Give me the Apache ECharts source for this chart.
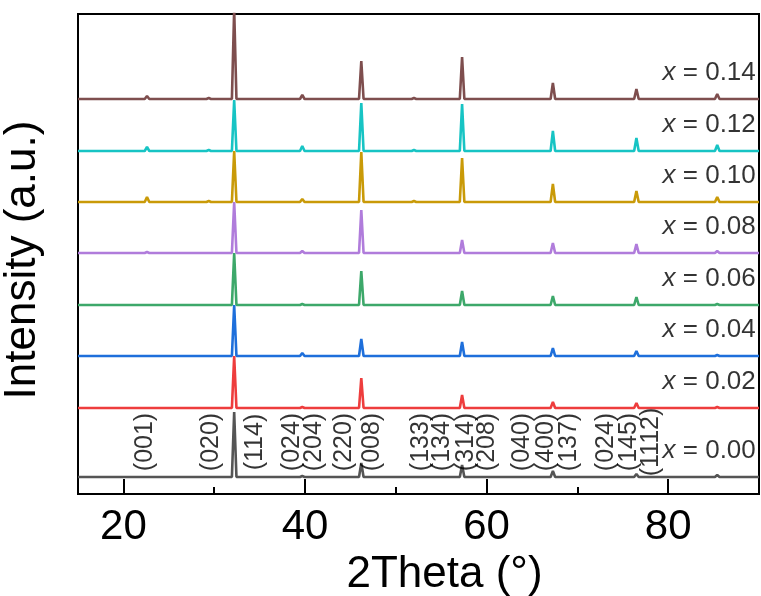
<!DOCTYPE html>
<html>
<head>
<meta charset="utf-8">
<style>html,body{margin:0;padding:0;background:#fff;}#c{width:761px;height:596px;}</style>
<script src="https://cdn.jsdelivr.net/npm/echarts@6/dist/echarts.min.js"></script>
</head>
<body>
<div id="c"></div>
<script>
// ---- data ----
const sampleNames = ['0.14', '0.12', '0.10', '0.08', '0.06', '0.04', '0.02', '0.00'];
const sampleColors = ['#7E4E4E', '#17C4C4', '#C99A08', '#B07CDB', '#3DA86A', '#1E6FDB', '#EE3D3D', '#555555'];
const offsets = [395, 343, 292, 241, 189, 138, 86, 17];
const peakPos = [22.6, 29.4, 32.2, 39.7, 46.2, 52.0, 57.3, 67.3, 76.5, 85.4];
const h014 = [3, 1, 90, 4, 38, 1, 42, 16, 10, 5];
const h012 = [4, 1, 51, 5, 48, 1, 47, 20, 13, 6];
const h010 = [5, 1, 51, 3, 50, 1, 44, 18, 11, 5];
const h008 = [1, 0, 51, 2, 43, 0, 13, 10, 9, 2];
const h006 = [0, 0, 52, 1, 34, 0, 14, 9, 8, 1];
const h004 = [0, 0, 51, 3, 17, 0, 14, 8, 5, 1];
const h002 = [0, 0, 52, 1, 30, 0, 13, 6, 5, 1];
const h000 = [0, 0, 65, 1, 14, 0, 12, 6, 3, 2];
const heights = [h014, h012, h010, h008, h006, h004, h002, h000];
const hklLabels = ['(001)', '(020)', '(114)', '(024)', '(204)', '(220)', '(008)', '(133)', '(134)', '(314)', '(208)', '(040)', '(400)', '(137)', '(024)', '(145)', '(1112)'];
const hklPos = [22.4, 29.7, 34.5, 38.6, 41.0, 44.3, 47.4, 52.8, 55.1, 57.7, 60.1, 63.9, 66.5, 69.1, 73.2, 75.7, 78.1];
const majorTicks = [20, 40, 60, 80];
const minorTicks = [30, 50, 70];

// ---- build ----
const FONT = "'Liberation Sans', Arial, sans-serif";
const peakHalf = 0.25;
const series = [];
heights.forEach((hs, k) => {
  const off = offsets[k];
  const pts = [[15, off]];
  peakPos.forEach((p, i) => {
    if (hs[i] > 0) {
      pts.push([p - peakHalf, off], [p, off + hs[i]], [p + peakHalf, off]);
    }
  });
  pts.push([90, off]);
  series.push({
    type: 'line', data: pts, showSymbol: false, symbol: 'none',
    lineStyle: { color: sampleColors[k], width: 2.6 }, clip: true, z: 2
  });
});
series.push({
  type: 'scatter', symbolSize: 1, itemStyle: { color: 'transparent' }, z: 5,
  data: sampleNames.map((n, k) => [89.7, offsets[k] + 26, n]),
  label: {
    show: true, position: 'left', distance: 0,
    formatter: p => '{i|x}{n| = ' + p.data[2] + '}',
    rich: {
      i: { fontStyle: 'italic', fontSize: 26, fontFamily: FONT, color: '#000' },
      n: { fontSize: 26, fontFamily: FONT, color: '#000' }
    }
  }
});
series.push({
  type: 'scatter', symbolSize: 1, itemStyle: { color: 'transparent' }, z: 5,
  data: hklLabels.map((t, i) => [hklPos[i], 52, t]),
  label: {
    show: true, position: 'inside', rotate: 90,
    formatter: p => p.data[2],
    fontSize: 25, fontFamily: FONT, color: '#000'
  }
});

const chart = echarts.init(document.getElementById('c'), null, { renderer: 'canvas' });
chart.setOption({
  animation: false,
  backgroundColor: '#fff',
  grid: { left: 78, right: 2, top: 14, bottom: 102, outerBoundsMode: 'none', containLabel: false, show: true, borderColor: '#000', borderWidth: 2, backgroundColor: 'transparent' },
  xAxis: [{
    type: 'value', min: 15, max: 90,
    name: '2Theta (°)', nameLocation: 'middle', nameGap: 48,
    nameTextStyle: { fontSize: 44, fontFamily: FONT, color: '#000', padding: [0, 0, 0, 52] },
    axisLine: { show: true, lineStyle: { color: '#000', width: 2 } },
    axisTick: { show: true, inside: true, length: 15, customValues: majorTicks, lineStyle: { color: '#000', width: 2 } },
    axisLabel: { show: true, customValues: majorTicks, fontSize: 42, fontFamily: FONT, color: '#000', margin: 12 },
    splitLine: { show: false }
  }, {
    type: 'value', min: 15, max: 90, position: 'bottom',
    axisLine: { show: false },
    axisTick: { show: true, inside: true, length: 7, customValues: minorTicks, lineStyle: { color: '#000', width: 2 } },
    axisLabel: { show: false },
    splitLine: { show: false }
  }],
  yAxis: {
    type: 'value', min: 0, max: 480,
    name: 'Intensity (a.u.)', nameLocation: 'middle', nameGap: 33,
    nameTextStyle: { fontSize: 44, fontFamily: FONT, color: '#000', padding: [0, 12, 0, 0] },
    axisLine: { show: true, lineStyle: { color: '#000', width: 2 } },
    axisTick: { show: false }, axisLabel: { show: false }, splitLine: { show: false }
  },
  series: series
});
</script>
</body>
</html>
